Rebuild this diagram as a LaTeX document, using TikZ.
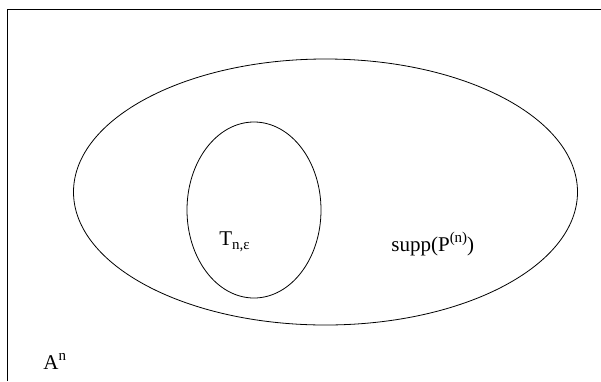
\documentclass[tikz,border=0pt]{standalone}
\usepackage{fontspec}
\setmainfont{Liberation Serif}
\usepackage{tikz}

\newcommand{\hisup}[1]{\raisebox{0.42em}{\fontsize{15}{15}\selectfont #1}}
\newcommand{\losub}[1]{\raisebox{-0.22em}{\fontsize{15}{15}\selectfont #1}}

\begin{document}
\begin{tikzpicture}[x=1pt,y=-1pt,line width=0.8pt]
        \tikzset{lbl/.style={anchor=base west,inner sep=0pt,font=\fontsize{21}{24}\selectfont}}
        \useasboundingbox (0,0) rectangle (601,381);
        \draw (7,381) -- (7,9) -- (601,9);
        \draw (325.5,192) ellipse (252 and 133);
        \draw (254,210) ellipse (67 and 88);
        \node[lbl] (tn) at (219,245) {T\losub{n,ε}};
        \node[lbl] (supp) at (391,251) {supp(P\hisup{(n)})};
        \node[lbl] (an) at (43,369) {A\hisup{n}};
    \end{tikzpicture}
\end{document}
